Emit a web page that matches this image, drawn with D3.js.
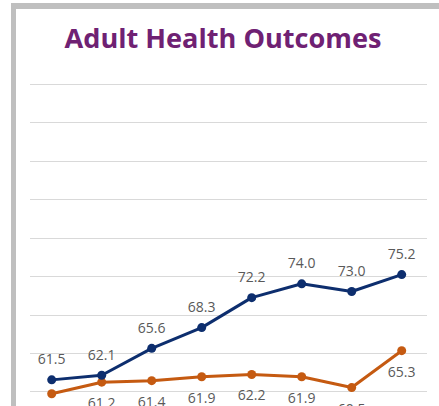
<!DOCTYPE html>
<html><head><meta charset="utf-8">
<script src="https://cdn.jsdelivr.net/npm/d3@7"></script>
<style>html,body{margin:0;padding:0;background:#fff;overflow:hidden}</style>
</head><body>
<script>
const categories = ["1","2","3","4","5","6","7","8"];
const seriesBlue = [61.5, 62.1, 65.6, 68.3, 72.2, 74.0, 73.0, 75.2];
const seriesOrange = [59.7, 61.2, 61.4, 61.9, 62.2, 61.9, 60.5, 65.3];
const gridTicks = [50, 55, 60, 65, 70, 75, 80, 85, 90, 95, 100];
const title = "Adult Health Outcomes";

const W = 439, H = 406;
const svg = d3.select("body").append("svg").attr("width", W).attr("height", H);

// frame
svg.append("rect").attr("x",0).attr("y",0).attr("width",W).attr("height",H).attr("fill","#fff");
svg.append("rect").attr("x",11).attr("y",3).attr("width",W-11).attr("height",6).attr("fill","#bfbfbf");
svg.append("rect").attr("x",11).attr("y",3).attr("width",5).attr("height",H).attr("fill","#bfbfbf");

const x = d3.scalePoint().domain(categories).range([51.7, 401.7]);
const y = d3.scaleLinear().domain([60, 100]).range([391.4, 84]);

svg.append("text").attr("x", 223).attr("y", 48).attr("text-anchor","middle")
  .attr("font-family","'Open Sans', sans-serif").attr("font-weight","bold")
  .attr("font-size", 27).attr("fill","#6f2173")
  .attr("textLength", 317).attr("lengthAdjust","spacingAndGlyphs")
  .text(title);

const grid = svg.append("g");
grid.selectAll("line").data(gridTicks).join("line")
  .attr("x1", 30).attr("x2", 427)
  .attr("y1", d => Math.round(y(d)) + 0.5).attr("y2", d => Math.round(y(d)) + 0.5)
  .attr("stroke", "#d9d9d9").attr("stroke-width", 1);

function drawSeries(vals, color, labelDy) {
  const data = vals.map((v,i)=>({c:categories[i], v}));
  const line = d3.line().x(d=>x(d.c)).y(d=>y(d.v));
  const g = svg.append("g");
  g.append("path").datum(data).attr("d", line).attr("fill","none")
    .attr("stroke", color).attr("stroke-width", 3).attr("stroke-linejoin","round");
  g.selectAll("circle").data(data).join("circle")
    .attr("cx", d=>x(d.c)).attr("cy", d=>y(d.v)).attr("r", 4.5).attr("fill", color);
  g.selectAll("text").data(data).join("text")
    .attr("x", d=>x(d.c)).attr("y", d=>y(d.v)+labelDy)
    .attr("text-anchor","middle").attr("font-family","'Open Sans', sans-serif")
    .attr("font-size", 14).attr("fill","#595959")
    .text(d=>d.v.toFixed(1));
}
drawSeries(seriesOrange, "#c55a11", 26);
drawSeries(seriesBlue, "#0d2e6e", -15.5);
</script>
</body></html>
